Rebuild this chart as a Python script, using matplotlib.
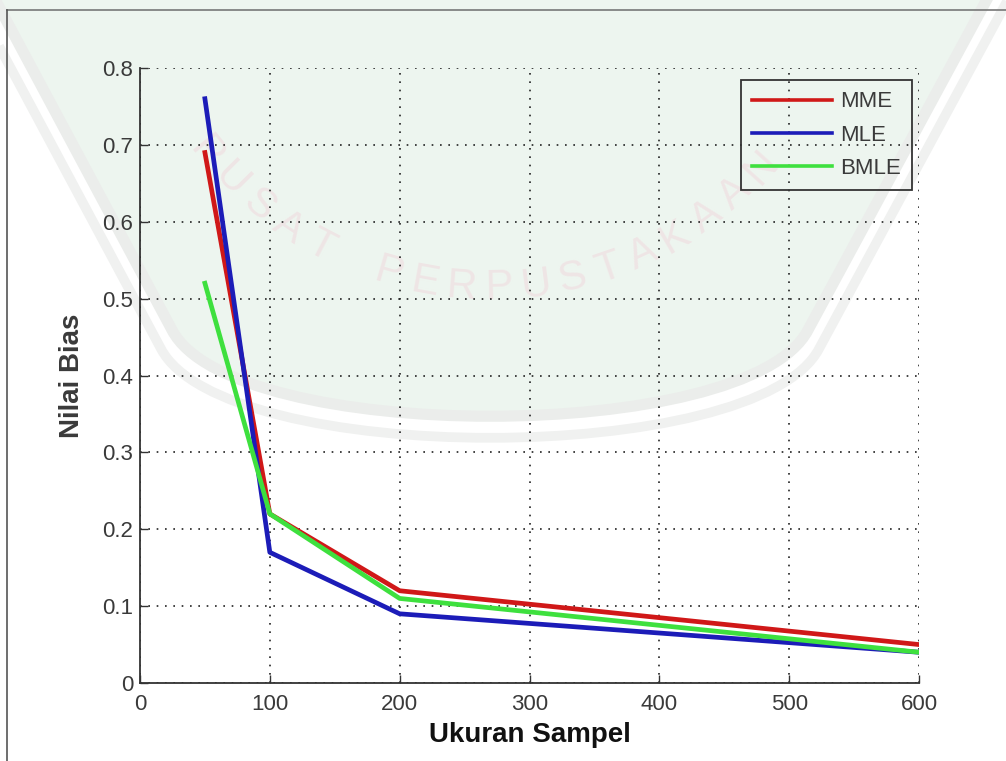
import numpy as np
import matplotlib
matplotlib.use("Agg")
from matplotlib import pyplot as plt
from matplotlib.patches import PathPatch
from matplotlib.path import Path
from matplotlib.lines import Line2D
from matplotlib.transforms import IdentityTransform, Affine2D

ukuran = [50, 100, 200, 600]
mme = [0.69, 0.22, 0.12, 0.05]
mle = [0.76, 0.17, 0.09, 0.04]
bmle = [0.52, 0.22, 0.11, 0.04]

label_seri = ["MME", "MLE", "BMLE"]
warna = ["#d01818", "#1c1cb8", "#3ee03e"]
xticks = [0, 100, 200, 300, 400, 500, 600]
yticks = [0, 0.1, 0.2, 0.3, 0.4, 0.5, 0.6, 0.7, 0.8]

W, H = 1006, 761
fig = plt.figure(figsize=(W / 100, H / 100), dpi=100)
fig.patch.set_facecolor("white")
idt = IdentityTransform()


def px(x, y):
    # piksel dengan sumbu y ke bawah -> koordinat layar
    return (x, H - y)


# watermark perpustakaan: perisai hijau muda di belakang grafik
titik = [px(-10, -10), px(172, 330), px(232, 445), px(748, 445), px(808, 330), px(992, -10)]
kode = [Path.MOVETO, Path.LINETO, Path.CURVE4, Path.CURVE4, Path.CURVE4, Path.LINETO]
perisai = Path(titik, kode)
fig.add_artist(PathPatch(perisai, facecolor="#edf5ef", edgecolor="#ebedeb", lw=8,
                         transform=idt, zorder=-3))
luar = Affine2D().translate(-490, -(H + 200)).scale(1.035).translate(490, H + 200)
fig.add_artist(PathPatch(perisai, facecolor="none", edgecolor="#f0f1f0", lw=7,
                         transform=luar, zorder=-3))

teks_segel = "PUSAT PERPUSTAKAAN"
cx, cy, r = 490, H + 77, 365
sudut = np.linspace(-141, -42, len(teks_segel))
for ch, a in zip(teks_segel, sudut):
    t = np.deg2rad(a)
    fig.text(cx + r * np.cos(t), cy + r * np.sin(t), ch, transform=idt,
             rotation=a + 90, ha="center", va="center", fontsize=30,
             color="#efe5e5", family="Liberation Sans", zorder=-1)

# bingkai gambar
fig.add_artist(Line2D([7, W], [H - 10, H - 10], color="#777777", lw=1.2, transform=idt))
fig.add_artist(Line2D([7, 7], [0, H - 10], color="#555555", lw=1.2, transform=idt))

ax = fig.add_axes([140 / W, 1 - 683 / H, 779 / W, 615 / H])
ax.set_facecolor("none")

for nilai, nama, c in zip([mme, mle, bmle], label_seri, warna):
    ax.plot(ukuran, nilai, color=c, lw=3.4, label=nama)

ax.set_xlim(0, 600)
ax.set_ylim(0, 0.8)
ax.set_xticks(xticks)
ax.set_yticks(yticks)
ax.set_xticklabels([str(v) for v in xticks])
ax.set_yticklabels(["0"] + ["%.1f" % v for v in yticks[1:]])
ax.grid(True, linestyle=(0, (1, 4)), color="#222222", linewidth=1.2)
ax.tick_params(direction="in", length=6, width=1, colors="#333333",
               labelsize=16, labelcolor="#3a3a3a")
ax.tick_params(axis="x", pad=8)
ax.tick_params(axis="y", pad=5)
for lab in ax.get_xticklabels() + ax.get_yticklabels():
    lab.set_family("Liberation Sans")
ax.spines["top"].set_visible(False)
ax.spines["right"].set_visible(False)
for s in ["left", "bottom"]:
    ax.spines[s].set_color("#333333")
    ax.spines[s].set_linewidth(1.3)

ax.set_xlabel("Ukuran Sampel", fontsize=20, fontweight="bold", color="#111111",
              family="Liberation Sans", labelpad=5)
ax.set_ylabel("Nilai Bias", fontsize=20, fontweight="bold", color="#3a3a3a",
              family="Liberation Sans", labelpad=12)

leg = ax.legend(loc="upper right", bbox_to_anchor=(0.991, 0.980), borderaxespad=0,
                fancybox=False, framealpha=1, facecolor="none", edgecolor="#333333",
                prop={"family": "Liberation Sans", "size": 16},
                handlelength=3.6, handletextpad=0.35, labelspacing=0.55,
                borderpad=0.5)
leg.get_frame().set_linewidth(1.3)
for t in leg.get_texts():
    t.set_color("#3a3a3a")
for h in leg.get_lines():
    h.set_linewidth(2.6)

fig.savefig("out.png", dpi=100)
